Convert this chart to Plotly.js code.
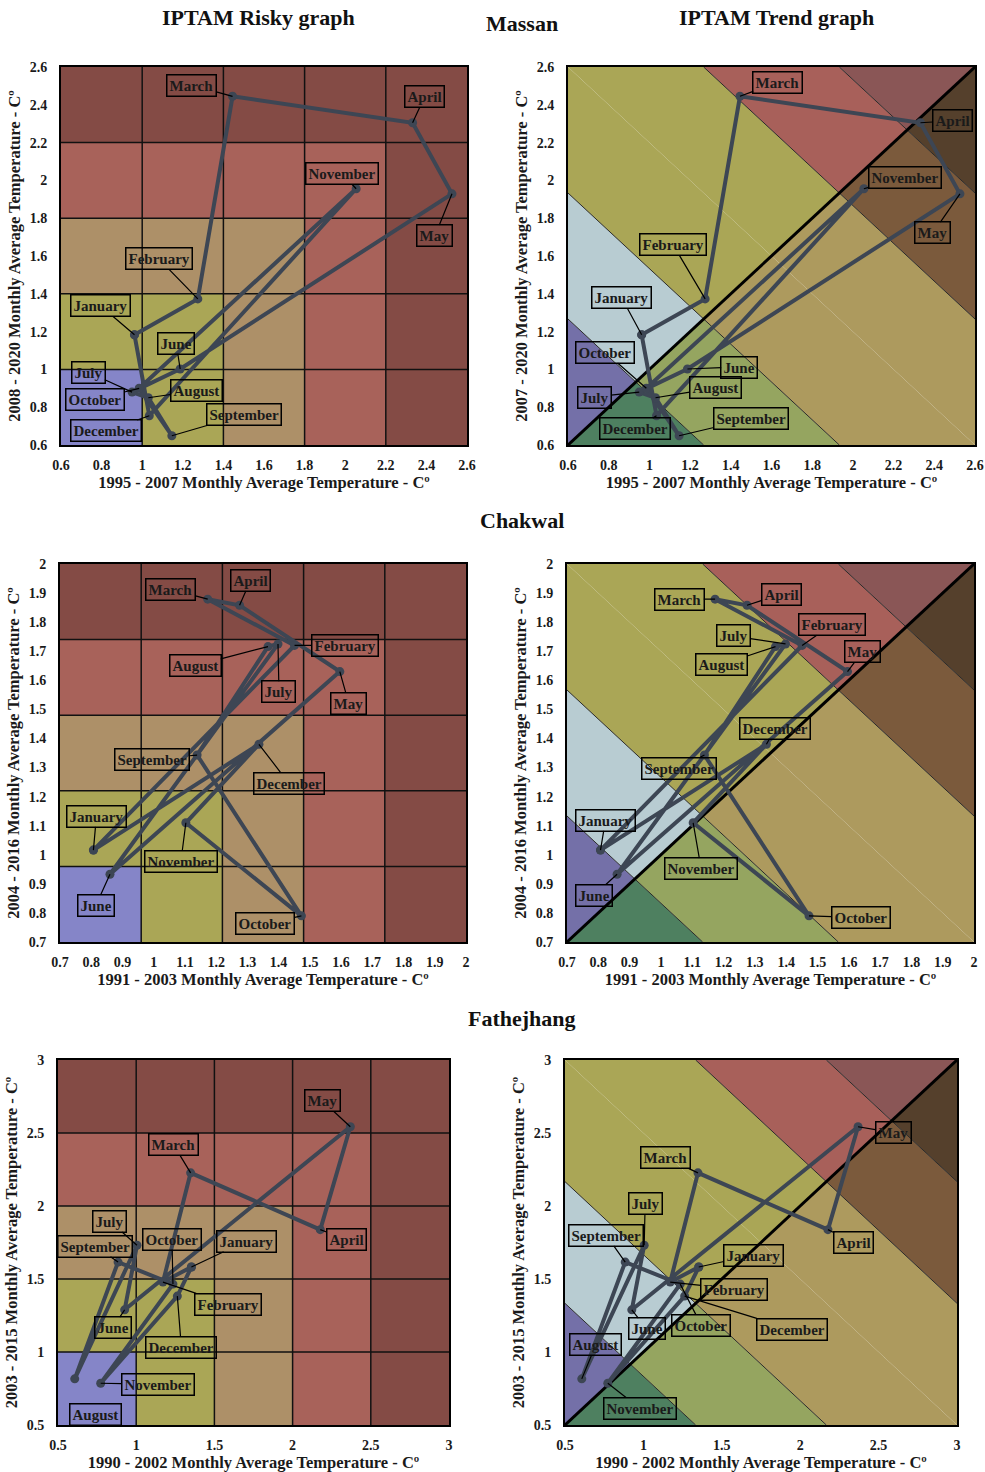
<!DOCTYPE html>
<html>
<head>
<meta charset="utf-8">
<script src="https://cdn.plot.ly/plotly-3.0.1.min.js"></script>
<style>html,body{margin:0;padding:0;background:#fff;}#chart{width:985px;height:1472px;}</style>
</head>
<body>
<div id="chart"></div>
<script>
// ---------------- DATA ----------------
const months = ['January','February','March','April','May','June','July','August','September','October','November','December'];

// Massan
const massanX = [0.962, 1.274, 1.445, 2.332, 2.526, 1.187, 0.950, 1.030, 1.146, 0.985, 2.054, 1.035];
const massanY = [1.183, 1.373, 2.445, 2.305, 1.929, 1.002, 0.880, 0.850, 0.649, 0.900, 1.956, 0.755];
const massanRange = [0.6, 2.6];
const massanTicks = [0.6, 0.8, 1, 1.2, 1.4, 1.6, 1.8, 2, 2.2, 2.4, 2.6];
const massanXTitleRisky = '1995 - 2007 Monthly Average Temperature - C\u00BA';
const massanYTitleRisky = '2008 - 2020 Monthly Average Temperature - C\u00BA';
const massanXTitleTrend = '1995 - 2007 Monthly Average Temperature - C\u00BA';
const massanYTitleTrend = '2007 - 2020 Monthly Average Temperature - C\u00BA';

// Chakwal
const chakwalX = [0.807, 1.451, 1.173, 1.275, 1.596, 0.860, 1.398, 1.366, 1.139, 1.473, 1.103, 1.337];
const chakwalY = [1.016, 1.720, 1.879, 1.858, 1.630, 0.933, 1.725, 1.716, 1.343, 0.790, 1.110, 1.380];
const chakwalRange = [0.7, 2.0];
const chakwalTicks = [0.7, 0.8, 0.9, 1, 1.1, 1.2, 1.3, 1.4, 1.5, 1.6, 1.7, 1.8, 1.9, 2];
const chakwalXTitle = '1991 - 2003 Monthly Average Temperature - C\u00BA';
const chakwalYTitle = '2004 - 2016 Monthly Average Temperature - C\u00BA';

// Fathejhang
const fathX = [1.353, 1.171, 1.348, 2.177, 2.369, 0.926, 1.005, 0.607, 0.884, 1.235, 0.773, 1.263];
const fathY = [1.582, 1.479, 2.227, 1.838, 2.543, 1.289, 1.731, 0.816, 1.616, 1.465, 0.786, 1.383];
const fathRange = [0.5, 3.0];
const fathTicks = [0.5, 1, 1.5, 2, 2.5, 3];
const fathXTitle = '1990 - 2002 Monthly Average Temperature - C\u00BA';
const fathYTitle = '2003 - 2015 Monthly Average Temperature - C\u00BA';

// label offsets (pixels, label centre relative to point)
const massanRiskyAx = [-34,-39,-41,12,-17,-4,-44,48,72,-44,-14,-43];
const massanRiskyAy = [-29,-40,-11,-26,42,-26,-20,-7,-21,11,-15,15];
const massanTrendAx = [-20,-32,38,32,-27,52,-45,60,72,-41,41,-22];
const massanTrendAy = [-37,-54,-14,-2,39,-2,5,-10,-17,-36,-11,13];
const chakwalRiskyAx = [3,50,-37,11,9,-14,1,-73,-45,-36,-5,30];
const chakwalRiskyAy = [-34,0,-10,-25,32,31,48,19,4,8,39,39];
const chakwalTrendAx = [5,30,-36,34,15,-23,-52,-54,-25,52,8,9];
const chakwalTrendAy = [-30,-21,0,-11,-20,21,-8,18,13,2,46,-16];
const fathRiskyAx = [55,65,-17,26,-28,-12,-27,21,-23,-1,57,4];
const fathRiskyAy = [-26,22,-28,10,-26,18,-24,36,-16,-45,1,51];
const fathTrendAx = [55,64,-32,26,35,15,1,14,-19,21,32,107];
const fathTrendAy = [-12,7,-15,13,6,19,-42,-34,-27,41,25,33];

// ---------------- STYLE ----------------
const W = 985, H = 1472;
const riskyColors = ['#8585c8', '#aaa656', '#ad9068', '#a8625a', '#844b45'];
const trendAbove = ['#7470a8', '#b8ccd2', '#aaa656', '#aaa656', '#a8605a', '#8a5656'];
const trendBelow = ['#4e8060', '#95a560', '#ad9a5e', '#ad9a5e', '#7b5a3c', '#55402c'];
const lineCol = '#3d4654';
const serif = 'Liberation Serif, Times New Roman, serif';

// plot rectangles in pixels [left, top, right, bottom]
const panels = [
  {st:'massan', type:'risky', box:[61,67,467,445]},
  {st:'massan', type:'trend', box:[568,67,975,445]},
  {st:'chakwal', type:'risky', box:[60,564,466,942]},
  {st:'chakwal', type:'trend', box:[567,564,974,942]},
  {st:'fath', type:'risky', box:[58,1060,449,1425]},
  {st:'fath', type:'trend', box:[565,1060,957,1425]}
];
const stations = {
  massan: {x:massanX, y:massanY, range:massanRange, ticks:massanTicks,
           riskyT:[massanXTitleRisky, massanYTitleRisky], trendT:[massanXTitleTrend, massanYTitleTrend],
           off:{risky:[massanRiskyAx,massanRiskyAy], trend:[massanTrendAx,massanTrendAy]}},
  chakwal: {x:chakwalX, y:chakwalY, range:chakwalRange, ticks:chakwalTicks,
           riskyT:[chakwalXTitle, chakwalYTitle], trendT:[chakwalXTitle, chakwalYTitle],
           off:{risky:[chakwalRiskyAx,chakwalRiskyAy], trend:[chakwalTrendAx,chakwalTrendAy]}},
  fath: {x:fathX, y:fathY, range:fathRange, ticks:fathTicks,
           riskyT:[fathXTitle, fathYTitle], trendT:[fathXTitle, fathYTitle],
           off:{risky:[fathRiskyAx,fathRiskyAy], trend:[fathTrendAx,fathTrendAy]}}
};

// polygon clipping: keep a*x + b*y <= c
function clip(poly, a, b, c) {
  const out = [];
  for (let i = 0; i < poly.length; i++) {
    const P = poly[i], Q = poly[(i + 1) % poly.length];
    const dp = a*P[0] + b*P[1] - c, dq = a*Q[0] + b*Q[1] - c;
    if (dp <= 0) out.push(P);
    if ((dp < 0 && dq > 0) || (dp > 0 && dq < 0)) {
      const t = dp / (dp - dq);
      out.push([P[0] + (Q[0]-P[0])*t, P[1] + (Q[1]-P[1])*t]);
    }
  }
  return out;
}
function pathOf(poly) {
  return 'M' + poly.map(p => p[0] + ',' + p[1]).join('L') + 'Z';
}

const data = [], shapes = [], annotations = [];
const layout = {
  width: W, height: H, margin: {l:0, r:0, t:0, b:0},
  paper_bgcolor: '#ffffff', plot_bgcolor: '#ffffff', showlegend: false,
  font: {family: serif, color: '#1a1a1a'}
};

panels.forEach((p, idx) => {
  const n = idx + 1;
  const xa = 'x' + (n === 1 ? '' : n), ya = 'y' + (n === 1 ? '' : n);
  const s = stations[p.st];
  const lo = s.range[0], hi = s.range[1];
  const [L, T, R, B] = p.box;
  const titles = p.type === 'risky' ? s.riskyT : s.trendT;
  const axCommon = {
    range: [lo, hi], tickmode: 'array', tickvals: s.ticks, ticktext: s.ticks.map(v => '<b>' + v + '</b>'),
    showgrid: false, zeroline: false,
    showline: true, linecolor: '#000', linewidth: 2, mirror: true,
    ticks: '', ticklabelstandoff: 6,
    tickfont: {family: serif, size: 14, color: '#1a1a1a'},
    fixedrange: true
  };
  layout['xaxis' + (n === 1 ? '' : n)] = Object.assign({}, axCommon, {
    domain: [L / W, R / W], anchor: ya,
    title: {text: '<b>' + titles[0] + '</b>', font: {family: serif, size: 16.5, color: '#1a1a1a'}, standoff: 5}
  });
  layout['yaxis' + (n === 1 ? '' : n)] = Object.assign({}, axCommon, {
    domain: [1 - B / H, 1 - T / H], anchor: xa, ticklabelstandoff: 9,
    title: {text: '<b>' + titles[1] + '</b>', font: {family: serif, size: 16.5, color: '#1a1a1a'}, standoff: 5}
  });

  if (p.type === 'risky') {
    const w = (hi - lo) / 5;
    for (let i = 0; i < 5; i++) for (let j = 0; j < 5; j++) {
      shapes.push({type:'rect', xref:xa, yref:ya, layer:'below',
        x0: lo + i*w, x1: lo + (i+1)*w, y0: lo + j*w, y1: lo + (j+1)*w,
        fillcolor: riskyColors[Math.max(i, j)], line: {width: 0}});
    }
    for (let k = 1; k < 5; k++) {
      shapes.push({type:'line', xref:xa, yref:ya, layer:'below', x0: lo + k*w, x1: lo + k*w, y0: lo, y1: hi, line:{color:'#111', width:1.5}});
      shapes.push({type:'line', xref:xa, yref:ya, layer:'below', y0: lo + k*w, y1: lo + k*w, x0: lo, x1: hi, line:{color:'#111', width:1.5}});
    }
  } else {
    const sq = [[lo,lo],[hi,lo],[hi,hi],[lo,hi]];
    const cw = 2 * (hi - lo) / 6;
    for (let k = 0; k < 6; k++) {
      const c0 = 2*lo + k*cw, c1 = 2*lo + (k+1)*cw;
      let band = clip(sq, -1, -1, -c0);
      band = clip(band, 1, 1, c1);
      const above = clip(band, 1, -1, 0);   // y >= x
      const below = clip(band, -1, 1, 0);   // y <= x
      if (above.length > 2) shapes.push({type:'path', xref:xa, yref:ya, layer:'below', path: pathOf(above), fillcolor: trendAbove[k], line:{width:0}});
      if (below.length > 2) shapes.push({type:'path', xref:xa, yref:ya, layer:'below', path: pathOf(below), fillcolor: trendBelow[k], line:{width:0}});
    }
    [1, 2, 4, 5].forEach(k => {
      const c = 2*lo + k*cw;
      const xs = Math.max(lo, c - hi), xe = Math.min(hi, c - lo);
      shapes.push({type:'line', xref:xa, yref:ya, layer:'below', x0: xs, y0: c - xs, x1: xe, y1: c - xe, line:{color:'#2a2a2a', width:1}});
    });
    shapes.push({type:'line', xref:xa, yref:ya, layer:'below', x0: lo, y0: lo, x1: hi, y1: hi, line:{color:'#000', width:3}});
  }

  data.push({
    type: 'scatter', mode: 'lines+markers', xaxis: xa, yaxis: ya,
    x: s.x.concat([s.x[0]]), y: s.y.concat([s.y[0]]),
    line: {color: lineCol, width: 4}, marker: {color: lineCol, size: 9},
    hoverinfo: 'skip', cliponaxis: false
  });

  const off = s.off[p.type];
  months.forEach((m, i) => {
    annotations.push({
      xref: xa, yref: ya, x: s.x[i], y: s.y[i],
      text: '<b>' + m + '</b>', showarrow: true, arrowhead: 0, arrowwidth: 1.2, arrowcolor: '#000',
      ax: off[0][i], ay: off[1][i], standoff: 0,
      bordercolor: '#000', borderwidth: 1.5, borderpad: 2, bgcolor: 'rgba(0,0,0,0)',
      font: {family: serif, size: 15, color: '#1a1a1a'}
    });
  });
});

// headings
const heads = [
  ['IPTAM Risky graph', 258, 17], ['Massan', 522, 24], ['IPTAM Trend graph', 776, 18],
  ['Chakwal', 522, 520], ['Fathejhang', 522, 1018]
];
heads.forEach(h => {
  annotations.push({xref:'paper', yref:'paper', x: h[1] / W, y: 1 - h[2] / H, xanchor:'center', yanchor:'middle',
    text: '<b>' + h[0] + '</b>', showarrow: false, font: {family: serif, size: 22, color: '#111'}});
});

layout.shapes = shapes;
layout.annotations = annotations;
Plotly.newPlot('chart', data, layout, {staticPlot: true, displayModeBar: false});
</script>
</body>
</html>
